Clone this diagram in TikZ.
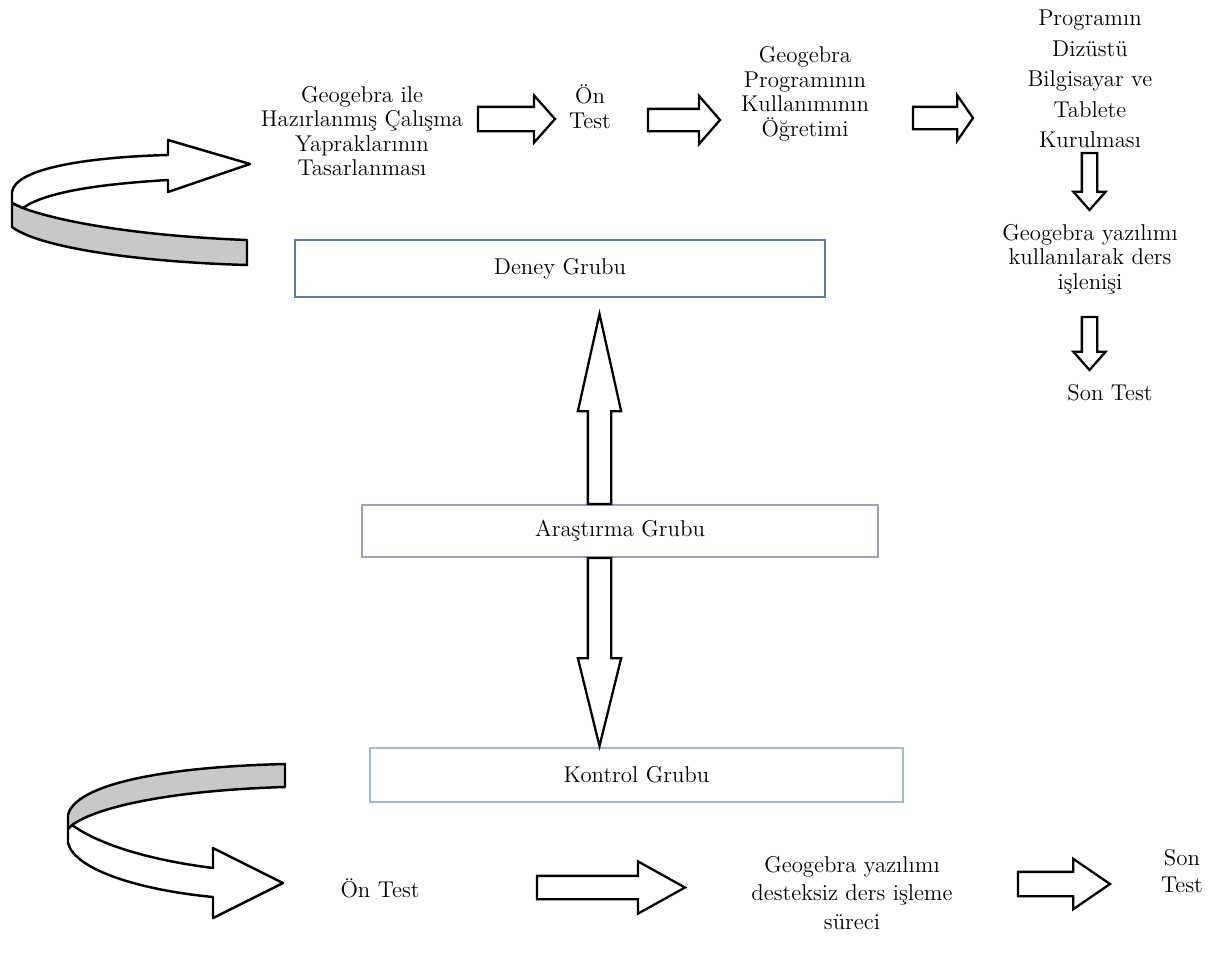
\documentclass[tikz,border=0pt]{standalone}
\usepackage{fontspec}
\usepackage{tikz}
\usetikzlibrary{shapes.arrows}
\definecolor{deneyblue}{RGB}{88,124,172}
\definecolor{arasgray}{RGB}{164,156,186}
\definecolor{kontrolblue}{RGB}{164,186,208}
\definecolor{seritgray}{RGB}{200,200,200}
\tikzstyle{yazi} = [align=center, font=\fontsize{13}{14}\selectfont]
\tikzstyle{grupkutu} = [rectangle, fill=white, font=\fontsize{13}{14}\selectfont]
\tikzstyle{blokok} = [single arrow, draw=black, line width=1.3pt, fill=white, outer sep=0pt, anchor=tail, single arrow head extend=0pt]
\tikzstyle{serit} = [draw=black, line width=1.4pt, line join=round]

\begin{document}
\begin{tikzpicture}[x=0.02cm, y=-0.02cm]
    \useasboundingbox (0,0) rectangle (1209,960);

    % deney grubu
    \node (tasarim) [yazi] at (362,131) {Geogebra ile\\Hazırlanmış Çalışma\\Yapraklarının\\Tasarlanması};
    \node (ontest1) [yazi] at (590,107) {Ön\\Test};
    \node (ogretim) [yazi] at (805,94) {Geogebra\\Programının\\Kullanımının\\Öğretimi};
    \node (kurulum) [yazi, font=\fontsize{13}{17.3}\selectfont] at (1090,79) {Programın\\Dizüstü\\Bilgisayar ve\\Tablete\\Kurulması};
    \node (islenis) [yazi] at (1090,259) {Geogebra yazılımı\\kullanılarak ders\\işlenişi};
    \node (sontest1) [yazi] at (1110,393) {Son Test};

    \node (ok1) [blokok, minimum height=1.54cm, inner sep=0.22cm, single arrow head extend=0.23cm, single arrow tip angle=96.8] at (478,119) {};
    \node (ok2) [blokok, minimum height=1.44cm, inner sep=0.2cm, single arrow head extend=0.26cm, single arrow tip angle=97.9] at (648,120) {};
    \node (ok3) [blokok, minimum height=1.2cm, inner sep=0.2cm, single arrow head extend=0.23cm, single arrow tip angle=110.5] at (913,118) {};
    \node (ok4) [blokok, rotate=-90, minimum height=1.14cm, inner sep=0.13cm, single arrow head extend=0.17cm, single arrow tip angle=82.9] at (1089.5,153) {};
    \node (ok5) [blokok, rotate=-90, minimum height=1.06cm, inner sep=0.13cm, single arrow head extend=0.17cm, single arrow tip angle=82.9] at (1089.5,317) {};

    % gruplar
    \node (deney) [grupkutu, draw=deneyblue, line width=1.5pt, minimum width=10.6cm, minimum height=1.14cm] at (560,268.5) {Deney Grubu};
    \node (arastirma) [grupkutu, draw=arasgray, line width=1.2pt, minimum width=10.32cm, minimum height=1.04cm] at (620,531) {Araştırma Grubu};
    \node (kontrol) [grupkutu, draw=kontrolblue, line width=1pt, minimum width=10.66cm, minimum height=1.08cm] at (636.5,775) {Kontrol Grubu};

    \node (yukari) [blokok, rotate=90, minimum height=3.8cm, inner sep=0.21cm, single arrow head extend=0.2cm, single arrow tip angle=25.1] at (arastirma.north -| 599.5,0) {};
    \node (asagi) [blokok, rotate=-90, minimum height=3.76cm, inner sep=0.21cm, single arrow head extend=0.2cm, single arrow tip angle=27.7] at (arastirma.south -| 599.5,0) {};

    % kontrol grubu
    \node (ontest2) [yazi] at (380,888) {Ön Test};
    \node (destek) [yazi, font=\fontsize{13}{16.2}\selectfont] at (852,893) {Geogebra yazılımı\\desteksiz ders işleme\\süreci};
    \node (sontest2) [yazi, font=\fontsize{13}{15.4}\selectfont] at (1182,871) {Son\\Test};

    \node (ok6) [blokok, minimum height=2.96cm, inner sep=0.21cm, single arrow head extend=0.29cm, single arrow tip angle=58.1] at (537,887.5) {};
    \node (ok7) [blokok, minimum height=1.84cm, inner sep=0.22cm, single arrow head extend=0.26cm, single arrow tip angle=68.9] at (1018,884) {};

    % donen oklar
    \draw [serit, fill=seritgray] (12,203) -- (23,208) .. controls (60,222) and (140,236) .. (247,240) -- (247,265) .. controls (140,262) and (40,248) .. (12,227) -- cycle;
    \draw [serit, fill=white] (12,203) -- (12,192) .. controls (15,168) and (90,157) .. (168,155) -- (168,140) -- (250,164) -- (168,192) -- (168,180) .. controls (100,184) and (45,192) .. (23,208) -- cycle;

    \draw [serit, fill=seritgray] (285,764) -- (285,787) .. controls (180,790) and (100,805) .. (72,825) -- (68,829) -- (68,815) .. controls (75,785) and (160,767) .. (285,764) -- cycle;
    \draw [serit, fill=white] (68,829) -- (72,825) .. controls (100,845) and (150,860) .. (213,868) -- (213,848) -- (283,883) -- (213,918) -- (213,897) .. controls (140,890) and (75,870) .. (68,843) -- cycle;
\end{tikzpicture}
\end{document}
